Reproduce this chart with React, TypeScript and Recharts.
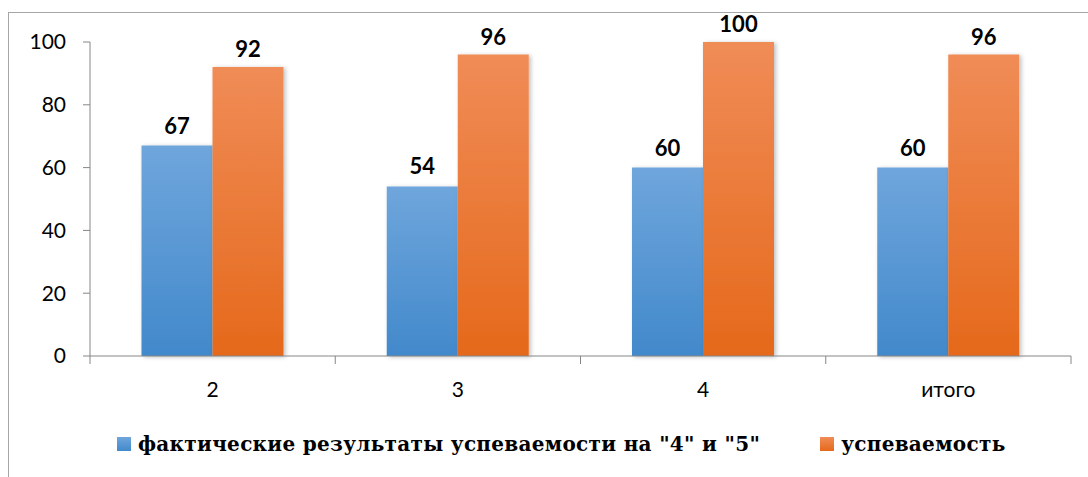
import { BarChart, Bar, XAxis, YAxis, LabelList } from 'recharts';

// classes / grades
const categories = ['2', '3', '4', 'итого'];
const qualityValues = [67, 54, 60, 60]; // на "4" и "5"
const successValues = [92, 96, 100, 96];
const yTicks = [0, 20, 40, 60, 80, 100];
const boundaryTicks = [0, 1, 2, 3, 4];

const series = [
  { key: 'quality', name: 'фактические результаты успеваемости на "4" и "5"', top: '#6fa6dc', bottom: '#4289cb', labelOffset: 12 },
  { key: 'success', name: 'успеваемость', top: '#f08c57', bottom: '#e5691b', labelOffset: 10 },
];

const data = categories.map((c, i) => ({
  name: c,
  pos: i + 0.5,
  quality: qualityValues[i],
  success: successValues[i],
}));

const axisColor = '#868686';
const tickFont = { fontFamily: 'Lato, "Open Sans", sans-serif', fontSize: 21, fill: '#000' };

export default function App() {
  return (
    <div style={{ position: 'absolute', top: 0, left: 0, width: 1088, height: 477, overflow: 'hidden', background: '#fff' }}>
      {/* outer chart frame */}
      <div style={{ position: 'absolute', left: 8, top: 12, width: 1200, height: 600, border: '1px solid #a6a6a6' }} />

      <BarChart
        width={1088}
        height={477}
        data={data}
        margin={{ top: 42, right: 17, left: 0, bottom: 90 }}
        barCategoryGap="21%"
        barGap={0}
        style={{ position: 'absolute', top: 0, left: 0 }}
      >
        <defs>
          {series.map((s) => (
            <linearGradient key={s.key} id={`grad-${s.key}`} x1="0" y1="0" x2="0" y2="1">
              <stop offset="0%" stopColor={s.top} />
              <stop offset="100%" stopColor={s.bottom} />
            </linearGradient>
          ))}
          <filter id="barShadow" x="-20%" y="-5%" width="140%" height="110%">
            <feDropShadow dx="2" dy="1" stdDeviation="2" floodColor="#000" floodOpacity="0.25" />
          </filter>
        </defs>

        <YAxis
          domain={[0, 100]}
          ticks={yTicks}
          width={90}
          axisLine={{ stroke: axisColor }}
          tickLine={{ stroke: axisColor }}
          tickSize={7}
          tickMargin={17}
          tick={tickFont}
          interval={0}
        />
        {/* tick marks between categories, like Excel */}
        <XAxis
          xAxisId="bounds"
          dataKey="pos"
          type="number"
          domain={[0, 4]}
          ticks={boundaryTicks}
          allowDataOverflow
          height={1}
          tickFormatter={() => ''}
          tickSize={8}
          axisLine={{ stroke: axisColor }}
          tickLine={{ stroke: axisColor }}
          interval={0}
        />
        <XAxis
          xAxisId="cat"
          dataKey="name"
          height={30}
          axisLine={false}
          tickLine={false}
          tickSize={0}
          tickMargin={25}
          tick={tickFont}
          interval={0}
        />

        {series.map((s) => (
          <Bar
            key={s.key}
            xAxisId="cat"
            dataKey={s.key}
            name={s.name}
            fill={`url(#grad-${s.key})`}
            filter="url(#barShadow)"
            isAnimationActive={false}
          >
            <LabelList
              dataKey={s.key}
              position="top"
              offset={s.labelOffset}
              style={{ fontFamily: 'Lato, "Open Sans", sans-serif', fontSize: 22, fontWeight: 700, fill: '#000' }}
            />
          </Bar>
        ))}
      </BarChart>

      {/* legend */}
      <div
        style={{
          position: 'absolute',
          top: 432,
          left: 117,
          display: 'flex',
          alignItems: 'center',
          gap: 60,
          color: '#000',
          whiteSpace: 'nowrap',
        }}
      >
        {series.map((s) => (
          <div key={s.key} style={{ display: 'flex', alignItems: 'center', gap: 7 }}>
            <div style={{ width: 14, height: 14, background: `linear-gradient(${s.top}, ${s.bottom})` }} />
            <span style={{ fontFamily: 'DejaVu Serif', fontWeight: 700, fontSize: 20, letterSpacing: 0.3 }}>{s.name}</span>
          </div>
        ))}
      </div>
    </div>
  );
}
